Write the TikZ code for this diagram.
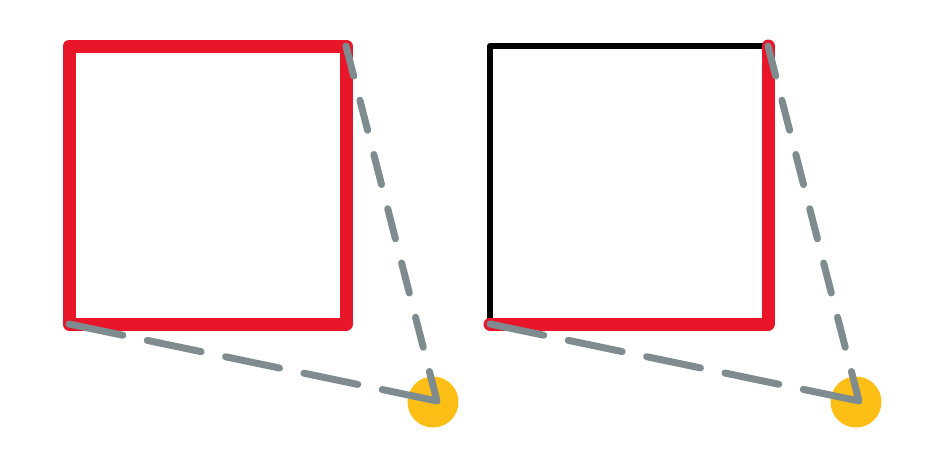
\documentclass[tikz,border=0pt]{standalone}
\usetikzlibrary{positioning}

\definecolor{sqred}{HTML}{E9162A}
\definecolor{rodgray}{HTML}{7F8C8F}
\definecolor{dotyellow}{HTML}{FDBE16}

\tikzstyle{redside} = [draw=sqred, line width=13pt, line join=round, line cap=round]
\tikzstyle{blackside} = [draw=black, line width=6.5pt, line join=round, line cap=round]
\tikzstyle{rod} = [draw=rodgray, line width=7pt, line cap=round, line join=round]
\tikzstyle{baserod} = [rod, dash pattern=on 55pt off 25pt]
\tikzstyle{siderod} = [rod, dash pattern=on 31pt off 25pt]
\tikzstyle{pivot} = [circle, fill=dotyellow, minimum size=51pt, inner sep=0pt]

\begin{document}
\begin{tikzpicture}[x=1pt, y=-1pt]
\useasboundingbox (0,0) rectangle (942,471);
%left figure
\coordinate (la) at (69,46);
\coordinate (lb) at (346,46);
\coordinate (lc) at (346,324);
\coordinate (ld) at (69,324);
\node[pivot] (lp) at (433,402) {};
\coordinate (lv) at (437,401);
\draw[redside] (la) -- (lb) -- (lc) -- (ld) -- cycle;
\draw[siderod] (lb) -- (lv);
\draw[baserod] (ld) -- (lv);
%right figure
\coordinate (ra) at (490,46);
\coordinate (rb) at (768,46);
\coordinate (rc) at (768,324);
\coordinate (rd) at (490,324);
\node[pivot] (rp) at (856,402) {};
\coordinate (rv) at (859,401);
\draw[blackside] (rd) -- (ra) -- (rb);
\draw[redside] (rb) -- (rc) -- (rd);
\draw[siderod] (rb) -- (rv);
\draw[baserod] (rd) -- (rv);
\end{tikzpicture}
\end{document}
